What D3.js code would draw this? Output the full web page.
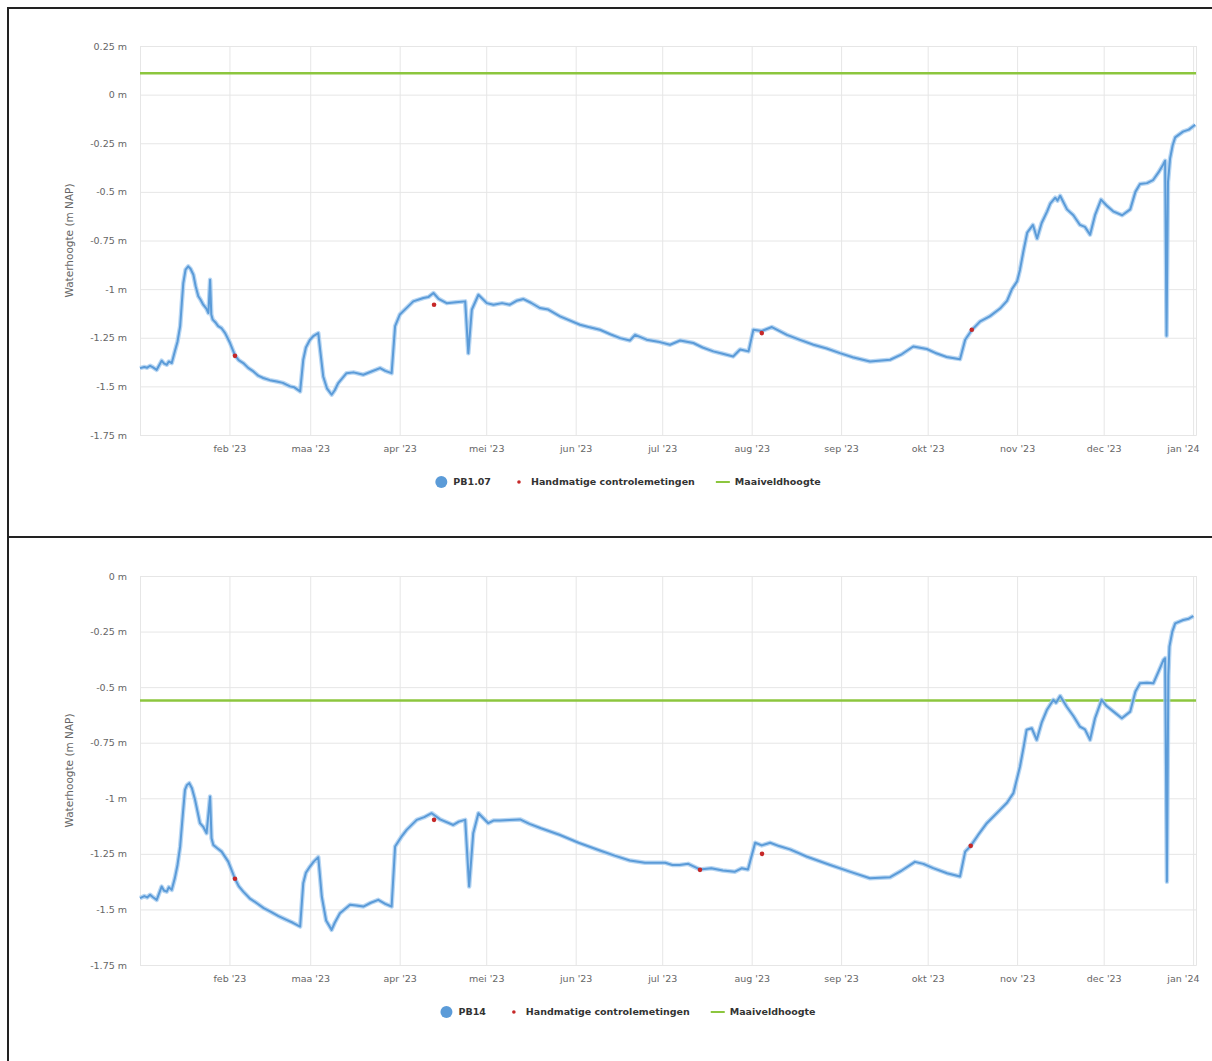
<!DOCTYPE html>
<html>
<head>
<meta charset="utf-8">
<script src="https://cdn.jsdelivr.net/npm/d3@7"></script>
<style>
  html, body { margin: 0; padding: 0; background: #fff; }
  svg { display: block; font-family: "DejaVu Sans", "Lucida Grande", sans-serif; }
</style>
</head>
<body>
<svg id="sheet" width="1212" height="1061"></svg>
<script>
// ---- Data --------------------------------------------------------------
// Dutch month abbreviations used on the time axis
const monthNames = ["jan", "feb", "maa", "apr", "mei", "jun", "jul", "aug", "sep", "okt", "nov", "dec"];
const periodStart = "2023-01-01 00:00";
const periodEnd = "2024-01-02 00:00";

const legendNames = ["Handmatige controlemetingen", "Maaiveldhoogte"];
const yTitle = "Waterhoogte (m NAP)";

// Peilbuis PB1.07: logger series (m NAP)
const pb107Name = "PB1.07";
const pb107Series = [
  ["2023-01-01 00:00", -1.406], ["2023-01-02 12:00", -1.400], ["2023-01-03 12:00", -1.404],
  ["2023-01-04 12:00", -1.394], ["2023-01-05 12:00", -1.402], ["2023-01-06 19:00", -1.415],
  ["2023-01-08 12:00", -1.368], ["2023-01-09 07:00", -1.382], ["2023-01-10 07:00", -1.389],
  ["2023-01-11 00:00", -1.372], ["2023-01-12 00:00", -1.380], ["2023-01-13 02:00", -1.320],
  ["2023-01-14 00:00", -1.270], ["2023-01-14 22:00", -1.190], ["2023-01-15 12:00", -1.070],
  ["2023-01-16 00:00", -0.970], ["2023-01-16 19:00", -0.900], ["2023-01-17 17:00", -0.883],
  ["2023-01-18 12:00", -0.895], ["2023-01-19 12:00", -0.926], ["2023-01-20 07:00", -0.985],
  ["2023-01-21 05:00", -1.037], ["2023-01-22 00:00", -1.055], ["2023-01-22 22:00", -1.080],
  ["2023-01-24 00:00", -1.100], ["2023-01-24 17:00", -1.123], ["2023-01-25 07:00", -0.952],
  ["2023-01-25 17:00", -1.130], ["2023-01-26 05:00", -1.157], ["2023-01-27 02:00", -1.170],
  ["2023-01-28 02:00", -1.190], ["2023-01-29 05:00", -1.200], ["2023-01-30 12:00", -1.226],
  ["2023-02-01 05:00", -1.277], ["2023-02-02 22:00", -1.340], ["2023-02-04 05:00", -1.365],
  ["2023-02-05 19:00", -1.380], ["2023-02-07 12:00", -1.405], ["2023-02-09 07:00", -1.423],
  ["2023-02-11 00:00", -1.445], ["2023-02-12 17:00", -1.457], ["2023-02-15 00:00", -1.468],
  ["2023-02-17 10:00", -1.475], ["2023-02-19 12:00", -1.482], ["2023-02-22 00:00", -1.500],
  ["2023-02-23 12:00", -1.505], ["2023-02-25 12:00", -1.526], ["2023-02-26 14:00", -1.363],
  ["2023-02-27 12:00", -1.300], ["2023-02-28 22:00", -1.260], ["2023-03-02 05:00", -1.240],
  ["2023-03-03 19:00", -1.226], ["2023-03-04 10:00", -1.310], ["2023-03-05 12:00", -1.449],
  ["2023-03-06 19:00", -1.510], ["2023-03-08 10:00", -1.543], ["2023-03-09 12:00", -1.520],
  ["2023-03-10 17:00", -1.483], ["2023-03-13 14:00", -1.432], ["2023-03-16 00:00", -1.428],
  ["2023-03-19 10:00", -1.440], ["2023-03-22 00:00", -1.425], ["2023-03-25 05:00", -1.406],
  ["2023-03-27 00:00", -1.420], ["2023-03-29 05:00", -1.432], ["2023-03-30 10:00", -1.190],
  ["2023-04-01 02:00", -1.130], ["2023-04-03 12:00", -1.095], ["2023-04-05 17:00", -1.063],
  ["2023-04-09 05:00", -1.046], ["2023-04-11 00:00", -1.040], ["2023-04-12 17:00", -1.020],
  ["2023-04-14 12:00", -1.050], ["2023-04-17 07:00", -1.072], ["2023-04-20 12:00", -1.068],
  ["2023-04-23 17:00", -1.063], ["2023-04-24 19:00", -1.330], ["2023-04-26 00:00", -1.106],
  ["2023-04-28 07:00", -1.029], ["2023-05-01 05:00", -1.072], ["2023-05-03 12:00", -1.080],
  ["2023-05-06 12:00", -1.072], ["2023-05-09 05:00", -1.080], ["2023-05-11 12:00", -1.060],
  ["2023-05-13 22:00", -1.051], ["2023-05-16 12:00", -1.070], ["2023-05-19 14:00", -1.097],
  ["2023-05-22 12:00", -1.105], ["2023-05-26 14:00", -1.140], ["2023-06-02 12:00", -1.183],
  ["2023-06-05 12:00", -1.195], ["2023-06-09 10:00", -1.209], ["2023-06-13 00:00", -1.232],
  ["2023-06-16 10:00", -1.252], ["2023-06-19 19:00", -1.264], ["2023-06-21 14:00", -1.235],
  ["2023-06-25 14:00", -1.260], ["2023-06-29 12:00", -1.270], ["2023-07-03 17:00", -1.286],
  ["2023-07-07 05:00", -1.264], ["2023-07-11 19:00", -1.277], ["2023-07-15 00:00", -1.300],
  ["2023-07-18 17:00", -1.320], ["2023-07-22 00:00", -1.332], ["2023-07-25 14:00", -1.346],
  ["2023-07-28 00:00", -1.310], ["2023-07-30 22:00", -1.320], ["2023-08-01 14:00", -1.209],
  ["2023-08-04 12:00", -1.215], ["2023-08-08 00:00", -1.195], ["2023-08-13 05:00", -1.235],
  ["2023-08-18 00:00", -1.262], ["2023-08-22 10:00", -1.286], ["2023-08-27 00:00", -1.305],
  ["2023-08-31 14:00", -1.329], ["2023-09-05 00:00", -1.350], ["2023-09-11 00:00", -1.372],
  ["2023-09-18 00:00", -1.363], ["2023-09-22 00:00", -1.335], ["2023-09-26 00:00", -1.295],
  ["2023-09-30 17:00", -1.308], ["2023-10-04 00:00", -1.330], ["2023-10-07 14:00", -1.349],
  ["2023-10-12 05:00", -1.360], ["2023-10-14 00:00", -1.260], ["2023-10-16 07:00", -1.210],
  ["2023-10-19 05:00", -1.166], ["2023-10-22 12:00", -1.140], ["2023-10-26 02:00", -1.100],
  ["2023-10-28 12:00", -1.060], ["2023-10-30 05:00", -1.000], ["2023-11-01 00:00", -0.960],
  ["2023-11-02 00:00", -0.900], ["2023-11-03 06:00", -0.800], ["2023-11-04 12:00", -0.710],
  ["2023-11-06 12:00", -0.670], ["2023-11-07 22:00", -0.740], ["2023-11-09 12:00", -0.660],
  ["2023-11-11 10:00", -0.600], ["2023-11-12 12:00", -0.560], ["2023-11-14 05:00", -0.530],
  ["2023-11-15 00:00", -0.545], ["2023-11-15 22:00", -0.520], ["2023-11-18 07:00", -0.590],
  ["2023-11-20 12:00", -0.620], ["2023-11-22 19:00", -0.670], ["2023-11-24 12:00", -0.680],
  ["2023-11-26 07:00", -0.720], ["2023-11-28 00:00", -0.620], ["2023-11-30 02:00", -0.540],
  ["2023-12-02 00:00", -0.570], ["2023-12-04 07:00", -0.600], ["2023-12-07 10:00", -0.620],
  ["2023-12-10 05:00", -0.590], ["2023-12-12 00:00", -0.500], ["2023-12-13 14:00", -0.460],
  ["2023-12-16 00:00", -0.455], ["2023-12-18 02:00", -0.440], ["2023-12-20 00:00", -0.400],
  ["2023-12-21 14:00", -0.360], ["2023-12-22 07:00", -0.340], ["2023-12-22 19:00", -1.240],
  ["2023-12-23 07:00", -0.450], ["2023-12-24 00:00", -0.330], ["2023-12-24 22:00", -0.260],
  ["2023-12-25 19:00", -0.220], ["2023-12-28 12:00", -0.190], ["2023-12-30 12:00", -0.180],
  ["2024-01-01 17:00", -0.155]
];
// Manual check readings for PB1.07
const pb107Manual = [
  ["2023-02-02 22:00", -1.343], ["2023-04-12 22:00", -1.080],
  ["2023-08-04 12:00", -1.226], ["2023-10-16 07:00", -1.209]
];
const pb107Surface = 0.11;   // ground level, m NAP
const pb107YTicks = [0.25, 0, -0.25, -0.5, -0.75, -1, -1.25, -1.5, -1.75];

// Peilbuis PB14: logger series (m NAP)
const pb14Name = "PB14";
const pb14Series = [
  ["2023-01-01 00:00", -1.449], ["2023-01-02 12:00", -1.440], ["2023-01-03 12:00", -1.446],
  ["2023-01-04 12:00", -1.434], ["2023-01-05 12:00", -1.445], ["2023-01-06 19:00", -1.457],
  ["2023-01-08 12:00", -1.397], ["2023-01-09 07:00", -1.415], ["2023-01-10 07:00", -1.420],
  ["2023-01-11 00:00", -1.400], ["2023-01-12 00:00", -1.412], ["2023-01-13 02:00", -1.359],
  ["2023-01-14 00:00", -1.300], ["2023-01-14 22:00", -1.217], ["2023-01-15 19:00", -1.080],
  ["2023-01-16 14:00", -0.962], ["2023-01-17 07:00", -0.940], ["2023-01-18 02:00", -0.932],
  ["2023-01-19 00:00", -0.955], ["2023-01-20 02:00", -1.007], ["2023-01-21 19:00", -1.112],
  ["2023-01-23 00:00", -1.130], ["2023-01-24 02:00", -1.157], ["2023-01-25 07:00", -0.992],
  ["2023-01-25 19:00", -1.180], ["2023-01-26 10:00", -1.210], ["2023-01-27 19:00", -1.225],
  ["2023-01-29 07:00", -1.240], ["2023-01-31 14:00", -1.285], ["2023-02-02 22:00", -1.362],
  ["2023-02-04 05:00", -1.395], ["2023-02-05 19:00", -1.420], ["2023-02-08 00:00", -1.450],
  ["2023-02-10 12:00", -1.472], ["2023-02-13 00:00", -1.495], ["2023-02-15 02:00", -1.509],
  ["2023-02-18 00:00", -1.530], ["2023-02-20 19:00", -1.547], ["2023-02-23 00:00", -1.560],
  ["2023-02-25 12:00", -1.577], ["2023-02-26 14:00", -1.382], ["2023-02-27 12:00", -1.335],
  ["2023-02-28 22:00", -1.307], ["2023-03-02 05:00", -1.285], ["2023-03-03 19:00", -1.265],
  ["2023-03-05 00:00", -1.442], ["2023-03-06 12:00", -1.550], ["2023-03-08 10:00", -1.592],
  ["2023-03-09 12:00", -1.560], ["2023-03-11 07:00", -1.517], ["2023-03-14 19:00", -1.479],
  ["2023-03-17 00:00", -1.482], ["2023-03-19 10:00", -1.487], ["2023-03-22 00:00", -1.470],
  ["2023-03-24 14:00", -1.457], ["2023-03-27 00:00", -1.475], ["2023-03-29 05:00", -1.487],
  ["2023-03-30 10:00", -1.217], ["2023-04-01 12:00", -1.175], ["2023-04-03 10:00", -1.142],
  ["2023-04-06 22:00", -1.097], ["2023-04-09 12:00", -1.085], ["2023-04-12 02:00", -1.067],
  ["2023-04-15 00:00", -1.095], ["2023-04-19 14:00", -1.120], ["2023-04-21 12:00", -1.105],
  ["2023-04-23 17:00", -1.097], ["2023-04-25 02:00", -1.397], ["2023-04-26 12:00", -1.157],
  ["2023-04-28 07:00", -1.067], ["2023-05-01 17:00", -1.112], ["2023-05-03 12:00", -1.100],
  ["2023-05-05 19:00", -1.100], ["2023-05-09 00:00", -1.098], ["2023-05-12 17:00", -1.095],
  ["2023-05-16 00:00", -1.115], ["2023-05-20 00:00", -1.135], ["2023-05-26 14:00", -1.165],
  ["2023-06-02 00:00", -1.200], ["2023-06-09 10:00", -1.235], ["2023-06-14 12:00", -1.258],
  ["2023-06-19 19:00", -1.280], ["2023-06-25 00:00", -1.290], ["2023-07-02 00:00", -1.290],
  ["2023-07-04 12:00", -1.300], ["2023-07-07 00:00", -1.300], ["2023-07-10 00:00", -1.295],
  ["2023-07-14 02:00", -1.320], ["2023-07-18 00:00", -1.315], ["2023-07-22 00:00", -1.325],
  ["2023-07-26 05:00", -1.330], ["2023-07-28 12:00", -1.315], ["2023-07-30 17:00", -1.320],
  ["2023-08-02 05:00", -1.200], ["2023-08-04 12:00", -1.212], ["2023-08-07 10:00", -1.200],
  ["2023-08-10 12:00", -1.215], ["2023-08-14 07:00", -1.230], ["2023-08-20 00:00", -1.262],
  ["2023-08-28 05:00", -1.300], ["2023-09-04 00:00", -1.330], ["2023-09-11 00:00", -1.360],
  ["2023-09-18 00:00", -1.355], ["2023-09-22 00:00", -1.325], ["2023-09-26 14:00", -1.286],
  ["2023-09-29 12:00", -1.295], ["2023-10-02 22:00", -1.314], ["2023-10-07 17:00", -1.337],
  ["2023-10-12 05:00", -1.352], ["2023-10-14 00:00", -1.240], ["2023-10-15 22:00", -1.214],
  ["2023-10-18 12:00", -1.165], ["2023-10-21 12:00", -1.112], ["2023-10-26 02:00", -1.052],
  ["2023-10-28 12:00", -1.020], ["2023-10-30 17:00", -0.977], ["2023-11-02 00:00", -0.857],
  ["2023-11-03 06:00", -0.770], ["2023-11-04 07:00", -0.692], ["2023-11-06 02:00", -0.685],
  ["2023-11-07 19:00", -0.737], ["2023-11-09 12:00", -0.660], ["2023-11-11 07:00", -0.603],
  ["2023-11-13 14:00", -0.557], ["2023-11-14 12:00", -0.570], ["2023-11-15 22:00", -0.540],
  ["2023-11-18 05:00", -0.588], ["2023-11-20 12:00", -0.630], ["2023-11-22 19:00", -0.678],
  ["2023-11-24 12:00", -0.690], ["2023-11-26 07:00", -0.737], ["2023-11-28 00:00", -0.640],
  ["2023-11-30 07:00", -0.557], ["2023-12-02 00:00", -0.585], ["2023-12-04 10:00", -0.610],
  ["2023-12-07 07:00", -0.640], ["2023-12-10 05:00", -0.610], ["2023-12-12 00:00", -0.520],
  ["2023-12-13 14:00", -0.483], ["2023-12-16 00:00", -0.480], ["2023-12-18 05:00", -0.483],
  ["2023-12-20 00:00", -0.430], ["2023-12-21 17:00", -0.378], ["2023-12-22 07:00", -0.370],
  ["2023-12-22 22:00", -1.375], ["2023-12-23 10:00", -0.450], ["2023-12-23 19:00", -0.318],
  ["2023-12-24 19:00", -0.250], ["2023-12-25 19:00", -0.213], ["2023-12-28 14:00", -0.198],
  ["2023-12-30 12:00", -0.192], ["2024-01-01 02:00", -0.180]
];
// Manual check readings for PB14
const pb14Manual = [
  ["2023-02-02 22:00", -1.362], ["2023-04-12 22:00", -1.097], ["2023-07-14 02:00", -1.322],
  ["2023-08-04 14:00", -1.250], ["2023-10-15 22:00", -1.214]
];
const pb14Surface = -0.56;   // ground level, m NAP
const pb14YTicks = [0, -0.25, -0.5, -0.75, -1, -1.25, -1.5, -1.75];

// ---- Styling -----------------------------------------------------------
const colors = {
  series: "#5b9bd8",
  seriesHalo: "#a7cdf0",
  manual: "#c62828",
  surface: "#8cc63e",
  grid: "#e6e6e6",
  label: "#666666",
  legend: "#333333",
  frame: "#222222"
};

const parseTime = d3.timeParse("%Y-%m-%d %H:%M");
const svg = d3.select("#sheet");

// Document frame around the two figures
const frame = svg.append("g").attr("stroke", colors.frame).attr("stroke-width", 2);
frame.append("line").attr("x1", 8).attr("x2", 8).attr("y1", 8).attr("y2", 1061);
frame.append("line").attr("x1", 7).attr("x2", 1212).attr("y1", 8).attr("y2", 8);
frame.append("line").attr("x1", 7).attr("x2", 1212).attr("y1", 537).attr("y2", 537);

function drawPanel(cfg) {
  const left = 140, right = 1196;
  const { top, bottom } = cfg;
  const g = svg.append("g");

  const x = d3.scaleTime()
    .domain([parseTime(periodStart), parseTime(periodEnd)])
    .range([left, right]);
  const y = d3.scaleLinear()
    .domain([d3.min(cfg.yTicks), d3.max(cfg.yTicks)])
    .range([bottom, top]);

  const fmtY = v => (v === 0 ? "0" : String(v)) + " m";
  const fmtX = d => monthNames[d.getMonth()] + " '" + String(d.getFullYear()).slice(2);

  // horizontal grid + y labels
  const yAxis = g.append("g")
    .attr("transform", `translate(${left},0)`)
    .call(d3.axisLeft(y).tickValues(cfg.yTicks).tickFormat(fmtY)
      .tickSize(-(right - left)).tickPadding(13));
  yAxis.select(".domain").remove();
  yAxis.selectAll("line").attr("stroke", colors.grid);
  yAxis.selectAll("text").attr("fill", colors.label).attr("font-size", 9.5)
    .attr("font-family", "DejaVu Sans, sans-serif");

  // vertical grid + month labels (first of every month after the start)
  const [d0, d1] = x.domain();
  const months = d3.timeMonth.range(d3.timeMonth.offset(d3.timeMonth.floor(d0), 1), d1);
  const xAxis = g.append("g")
    .attr("transform", `translate(0,${bottom})`)
    .call(d3.axisBottom(x).tickValues(months).tickFormat(fmtX)
      .tickSize(-(bottom - top)).tickPadding(10));
  xAxis.select(".domain").attr("stroke", colors.grid);
  xAxis.selectAll("line").attr("stroke", colors.grid);
  xAxis.selectAll(".tick text").attr("fill", colors.label).attr("font-size", 9.5)
    .attr("font-family", "DejaVu Sans, sans-serif");
  // keep the last label inside the chart area
  xAxis.selectAll(".tick").each(function (d) {
    const t = d3.select(this).select("text");
    const w = t.node().getComputedTextLength();
    const overflow = x(d) + w / 2 - 1199;
    if (overflow > 0) t.attr("x", -overflow);
  });

  // axis title
  g.append("text")
    .attr("transform", `translate(73,${(top + bottom) / 2}) rotate(-90)`)
    .attr("text-anchor", "middle")
    .attr("font-size", 10.5)
    .attr("fill", colors.label)
    .text(yTitle);

  // ground level
  g.append("line")
    .attr("x1", x.range()[0]).attr("x2", x.range()[1])
    .attr("y1", y(cfg.surface)).attr("y2", y(cfg.surface))
    .attr("stroke", colors.surface).attr("stroke-width", 2.5);

  // logger series
  const pts = cfg.series.map(([t, v]) => [parseTime(t), v]);
  const line = d3.line().x(d => x(d[0])).y(d => y(d[1]));
  g.append("path").datum(pts).attr("d", line)
    .attr("fill", "none").attr("stroke", colors.seriesHalo)
    .attr("stroke-width", 4.5).attr("stroke-linejoin", "round").attr("stroke-opacity", 0.8);
  g.append("path").datum(pts).attr("d", line)
    .attr("fill", "none").attr("stroke", colors.series)
    .attr("stroke-width", 2).attr("stroke-linejoin", "round");

  // manual readings
  g.selectAll(".manual").data(cfg.manual).join("circle")
    .attr("class", "manual")
    .attr("cx", d => x(parseTime(d[0])))
    .attr("cy", d => y(d[1]))
    .attr("r", 2.3)
    .attr("fill", colors.manual);

  // legend
  const items = [
    { type: "circle", label: cfg.name },
    { type: "dot", label: legendNames[0] },
    { type: "line", label: legendNames[1] }
  ];
  const lg = g.append("g");
  let pos = 0;
  items.forEach(it => {
    const ig = lg.append("g").attr("transform", `translate(${pos},0)`);
    if (it.type === "circle") {
      ig.append("circle").attr("cx", 8).attr("r", 6).attr("fill", colors.series);
    } else if (it.type === "dot") {
      ig.append("circle").attr("cx", 8).attr("r", 1.8).attr("fill", colors.manual);
    } else {
      ig.append("line").attr("x1", 1).attr("x2", 15).attr("y1", 0).attr("y2", 0)
        .attr("stroke", colors.surface).attr("stroke-width", 2);
    }
    const t = ig.append("text")
      .attr("x", 20).attr("dy", "0.35em")
      .attr("font-size", 9.5).attr("font-weight", "bold")
      .attr("fill", colors.legend)
      .text(it.label);
    pos += 20 + t.node().getComputedTextLength() + 20;
  });
  const total = pos - 20;
  lg.attr("transform", `translate(${627 - total / 2},${cfg.legendY})`);
}

drawPanel({
  name: pb107Name, series: pb107Series, manual: pb107Manual,
  surface: pb107Surface, yTicks: pb107YTicks,
  top: 46, bottom: 435, legendY: 482
});
drawPanel({
  name: pb14Name, series: pb14Series, manual: pb14Manual,
  surface: pb14Surface, yTicks: pb14YTicks,
  top: 576, bottom: 965, legendY: 1012
});
</script>
</body>
</html>
